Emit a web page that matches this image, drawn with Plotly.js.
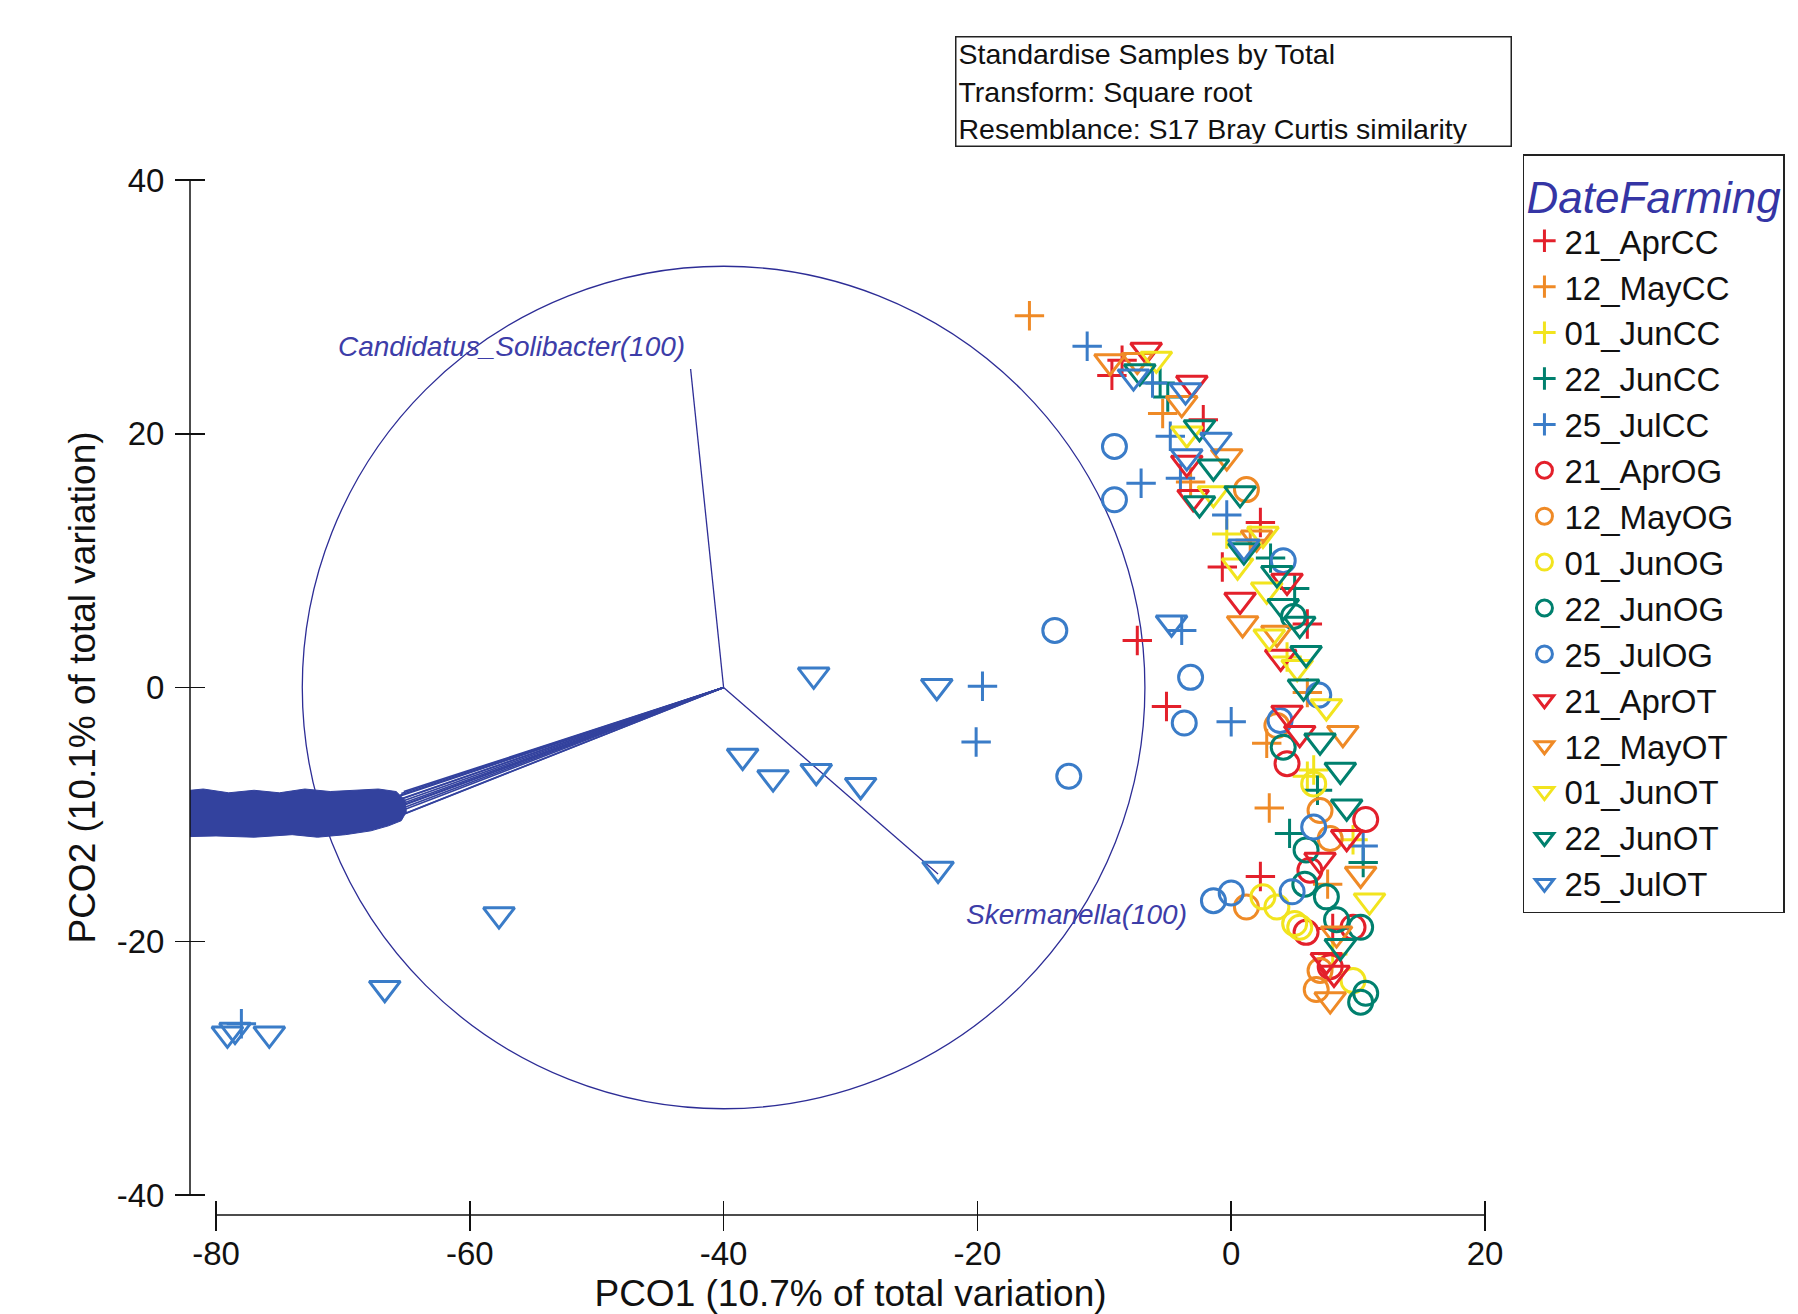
<!DOCTYPE html>
<html>
<head>
<meta charset="utf-8">
<script src="https://cdn.plot.ly/plotly-3.0.1.min.js"></script>
<style>html,body{margin:0;padding:0;background:#fff;}#chart{width:1798px;height:1314px;}</style>
</head>
<body>
<div id="chart"></div>
<script>
// ---------- data ----------
const groupNames = ['21_AprCC','12_MayCC','01_JunCC','22_JunCC','25_JulCC',
                    '21_AprOG','12_MayOG','01_JunOG','22_JunOG','25_JulOG',
                    '21_AprOT','12_MayOT','01_JunOT','22_JunOT','25_JulOT'];

const aprCC_x = [-9.4,-2.2,2.3,-0.7,6.0,-7.4,-5.1,2.3,8.0,-8.6];
const aprCC_y = [24.6,21.1,13.0,9.5,5.0,3.7,-1.5,-14.9,-19.0,25.8];
const mayCC_x = [-15.9,-5.4,-3.2,2.8,7.6,1.5,6.0,3.0];
const mayCC_y = [29.3,21.6,16.2,-4.4,-15.5,11.6,-0.4,-9.5];
const junCC_x = [6.0,-0.35,6.5,9.6,4.4,8.0];
const junCC_y = [-7.0,12.1,-6.5,-12.0,2.4,-21.0];
const jun22CC_x = [-5.6,-5.0,4.6,10.4,6.8,5.0,3.1];
const jun22CC_y = [24.0,22.9,-11.5,-13.8,-8.1,7.8,10.2];
const julCC_x = [-11.35,-4.8,-7.1,-4.0,-0.35,-3.9,-19.6,-20.1,0.0,-78.0,10.4,-6.2];
const julCC_y = [26.9,19.8,16.1,16.5,13.6,4.5,0.1,-4.3,-2.7,-26.5,-12.5,24.0];

const aprOG_x = [10.6,6.2,9.6,5.9,7.8,4.4];
const aprOG_y = [-10.4,-14.4,-18.9,-19.3,-22.0,-6.0];
const mayOG_x = [1.2,7.0,7.8,1.2,6.7,7.0,3.6];
const mayOG_y = [15.6,-9.7,-11.9,-17.3,-23.8,-22.3,-3.0];
const junOG_x = [6.5,3.6,5.4,9.6,5.0,2.5];
const junOG_y = [-7.6,-17.3,-18.9,-23.1,-18.6,-16.5];
const jun22OG_x = [4.9,4.1,5.9,7.5,8.3,10.2,10.6,10.2,5.8];
const jun22OG_y = [5.6,-4.7,-12.8,-16.5,-18.3,-18.9,-24.1,-24.8,-15.5];
const julOG_x = [-9.2,-9.2,-13.9,-3.2,-3.7,-12.8,-1.4,0.0,4.8,3.85,6.5,4.1,6.9];
const julOG_y = [19.0,14.8,4.5,0.8,-2.8,-7.0,-16.8,-16.2,-16.1,-2.6,-11.0,10.0,-0.6];

const aprOT_x = [-6.7,-3.1,-3.5,-3.0,0.7,4.4,3.9,4.4,5.4,9.1,7.0,7.5,8.1];
const aprOT_y = [26.6,24.0,17.7,15.0,6.9,8.4,2.4,-2.0,-3.6,-11.8,-13.6,-21.5,-22.5];
const mayOT_x = [-9.55,-3.9,-0.35,2.0,0.9,3.6,8.8,10.2,8.3,7.8,-7.4];
const mayOT_y = [25.7,22.4,18.2,11.8,5.05,4.3,-3.6,-14.7,-19.4,-24.6,25.8];
const junOT_x = [-5.9,-3.5,-1.4,2.5,2.8,3.0,5.2,7.5,10.9,0.5];
const junOT_y = [25.9,20.0,15.3,12.1,7.7,4.0,1.6,-1.5,-16.8,9.6];
const jun22OT_x = [-7.2,-2.5,-1.4,-2.5,0.7,1.0,3.6,4.1,5.9,5.7,7.0,8.6,9.1,8.6,5.4];
const jun22OT_y = [24.9,20.5,17.4,14.5,15.3,10.8,9.0,6.4,2.7,0.05,-4.2,-6.5,-9.4,-20.4,5.0];
const julOT_x = [-32.9,-23.2,-38.5,-36.1,-32.7,-29.2,-23.1,-57.7,-66.7,-79.1,-78.5,-75.8,-4.7,-7.7,-3.6,-1.2,-3.5,1.0];
const julOT_y = [1.0,0.1,-5.4,-7.1,-6.6,-7.7,-14.3,-17.9,-23.7,-27.3,-27.0,-27.3,5.1,24.5,23.4,19.5,18.2,11.1];

const groupX = [aprCC_x,mayCC_x,junCC_x,jun22CC_x,julCC_x,aprOG_x,mayOG_x,junOG_x,jun22OG_x,julOG_x,aprOT_x,mayOT_x,junOT_x,jun22OT_x,julOT_x];
const groupY = [aprCC_y,mayCC_y,junCC_y,jun22CC_y,julCC_y,aprOG_y,mayOG_y,junOG_y,jun22OG_y,julOG_y,aprOT_y,mayOT_y,junOT_y,jun22OT_y,julOT_y];

// vector overlay (correlation circle)
const vecOrigin = [-40, 0];
const circleRadius = 33.2;
const vecLabels = ['Candidatus_Solibacter(100)', 'Skermanella(100)'];
const vecTipX = [-42.6, -23.1];
const vecTipY = [25.1, -14.7];
// bundle of many vectors pointing left (tips)
const fanTipX = [-65.2,-65.5,-65.8,-66.0,-66.3,-66.6,-66.9,-67.2,-66.0,-65.6,-66.8,-67.5,-65.4,-66.2];
const fanTipY = [-8.2,-8.5,-8.9,-9.2,-9.5,-9.8,-10.1,-10.4,-9.0,-8.6,-10.6,-10.9,-8.35,-9.6];
// overlapping label mass at the tips of the bundle
const blobX = [-84,-81,-79,-77,-75,-73,-71,-69,-67.2,-65.8,-65.1,-65.0,-65.4,-66.4,-67.8,-69.8,-72,-74,-77,-80,-84];
const blobY = [-8.3,-8.0,-8.3,-8.1,-8.3,-8.0,-8.2,-8.1,-8.0,-8.2,-8.9,-9.8,-10.5,-10.9,-11.3,-11.6,-11.8,-11.6,-11.8,-11.7,-11.8];

const xTicks = [-80,-60,-40,-20,0,20];
const yTicks = [-40,-20,0,20,40];

// ---------- styles ----------
const colors = ['#e3202b','#ef8a26','#f2e41e','#00806e','#3a7cc8'];
const symbols = ['cross-thin-open','circle-open','triangle-down-open'];
const sizes = [21, 24, 27];
const navy = '#2d2d96';
const labelBlue = '#3d3da8';
const FONT = 'Liberation Sans, Arial, sans-serif';

const traces = [];

// fan of vectors
const fx = [], fy = [];
fanTipX.forEach((x, i) => { fx.push(vecOrigin[0], x, null); fy.push(vecOrigin[1], fanTipY[i], null); });
traces.push({x: fx, y: fy, xaxis: 'x3', yaxis: 'y', mode: 'lines', line: {color: '#33429e', width: 1.6}, showlegend: false, hoverinfo: 'skip'});
traces.push({x: blobX, y: blobY, xaxis: 'x3', yaxis: 'y', mode: 'lines', fill: 'toself', fillcolor: '#33429e', line: {color: '#33429e', width: 1}, showlegend: false, hoverinfo: 'skip'});

// two labelled vectors
const vx = [], vy = [];
vecTipX.forEach((x, i) => { vx.push(vecOrigin[0], x, null); vy.push(vecOrigin[1], vecTipY[i], null); });
traces.push({x: vx, y: vy, xaxis: 'x', yaxis: 'y', mode: 'lines', line: {color: navy, width: 1.3}, showlegend: false, hoverinfo: 'skip'});

// sample groups
groupNames.forEach((name, i) => {
  const sym = Math.floor(i / 5), col = i % 5;
  traces.push({
    x: groupX[i], y: groupY[i], name: name, type: 'scatter', mode: 'markers',
    xaxis: 'x', yaxis: 'y', cliponaxis: false,
    marker: {symbol: symbols[sym], size: sizes[sym], color: colors[col], line: {color: colors[col], width: 3}}
  });
});

const axisCommon = {showgrid: false, zeroline: false, showline: false, tickcolor: '#111', tickwidth: 1.5,
                    ticks: 'outside', ticklen: 30,
                    tickfont: {family: FONT, size: 33, color: '#111'}};

const W = 1295, H = 1035;
const layout = {
  width: 1798, height: 1314,
  margin: {l: 190, r: 313, t: 180, b: 99},
  paper_bgcolor: '#fff', plot_bgcolor: 'rgba(0,0,0,0)',
  font: {family: FONT, color: '#111'},
  showlegend: true,
  xaxis: Object.assign({}, axisCommon, {
    domain: [26/W, 1], range: [-80, 20], anchor: 'free', position: 15/H,
    tickvals: xTicks, ticktext: xTicks.map(String),
    ticklabelstandoff: -6,
    title: {text: 'PCO1 (10.7% of total variation)', font: {family: FONT, size: 37, color: '#111'}, standoff: 29}
  }),
  xaxis3: {domain: [0, 1], range: [-80 - 26/12.69, 20], anchor: 'y', visible: false, showgrid: false, zeroline: false},
  yaxis: Object.assign({}, axisCommon, {
    domain: [20/H, 1], range: [-40, 40], anchor: 'free', position: 15/W,
    tickvals: yTicks, ticktext: yTicks.map(String),
    ticklabelstandoff: 4,
    title: {text: 'PCO2 (10.1% of total variation)', font: {family: FONT, size: 37, color: '#111'}, standoff: 8}
  }),
  shapes: [
    {type: 'circle', xref: 'x', yref: 'y', layer: 'below',
     x0: vecOrigin[0] - circleRadius, x1: vecOrigin[0] + circleRadius,
     y0: vecOrigin[1] - circleRadius, y1: vecOrigin[1] + circleRadius,
     line: {color: navy, width: 1.3}},
    // axis lines (ticks cross them)
    {type: 'line', xref: 'x', yref: 'paper', x0: xTicks[0], x1: xTicks[xTicks.length - 1], y0: 0, y1: 0,
     line: {color: '#111', width: 1.5}},
    {type: 'line', xref: 'paper', yref: 'y', x0: 0, x1: 0, y0: yTicks[0], y1: yTicks[yTicks.length - 1],
     line: {color: '#111', width: 1.5}}
  ],
  legend: {
    x: 1.0293, y: 1.025, xanchor: 'left', yanchor: 'top',
    bgcolor: '#fff', bordercolor: '#222', borderwidth: 1.5,
    font: {family: FONT, size: 33, color: '#111'},
    title: {text: 'DateFarming', font: {family: FONT, size: 44, color: '#3535a5', style: 'italic'}},
    tracegroupgap: 0, itemwidth: 30, maxheight: 1300
  },
  annotations: [
    {xref: 'paper', yref: 'paper', x: 0.5907, y: 1.1396, xanchor: 'left', yanchor: 'top', showarrow: false, align: 'left',
     width: 550, height: 104,
     text: 'Standardise Samples by Total<br>Transform: Square root<br>Resemblance: S17 Bray Curtis similarity',
     font: {family: FONT, size: 28.5, color: '#111'}, bordercolor: '#222', borderwidth: 1.5, borderpad: 2, bgcolor: '#fff'},
    {xref: 'x', yref: 'y', x: vecTipX[0], y: vecTipY[0], xanchor: 'right', yanchor: 'middle', xshift: -4, yshift: 23,
     showarrow: false, text: vecLabels[0], font: {family: FONT, size: 28, color: labelBlue, style: 'italic'}},
    {xref: 'x', yref: 'y', x: vecTipX[1], y: vecTipY[1], xanchor: 'left', yanchor: 'middle', xshift: 26, yshift: -40,
     showarrow: false, text: vecLabels[1], font: {family: FONT, size: 28, color: labelBlue, style: 'italic'}}
  ]
};

Plotly.newPlot('chart', traces, layout, {displayModeBar: false, staticPlot: true});
</script>
</body>
</html>
